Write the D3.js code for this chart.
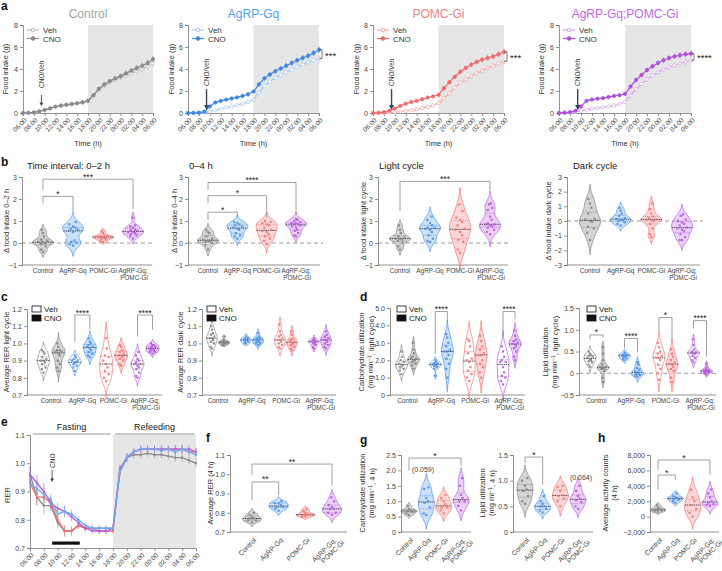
<!DOCTYPE html>
<html><head><meta charset="utf-8">
<script src="https://cdn.jsdelivr.net/npm/d3@7"></script>
<style>body{margin:0;background:#fff}</style></head>
<body><script>
// ================= DATA =================
const groups = ["Control","AgRP-Gq","POMC-Gi","AgRP-Gq;POMC-Gi"];
const timeTicks = ["06:00","08:00","10:00","12:00","14:00","16:00","18:00","20:00","22:00","00:00","02:00","04:00","06:00"];
const hourIdx = d3.range(25); // hours after 06:00

// panel a: cumulative food intake (g), hourly
const ctrlVeh = [0,0.02,0.05,0.14,0.26,0.4,0.55,0.64,0.72,0.79,0.86,0.94,1.08,1.55,2.1,2.5,2.8,3.0,3.2,3.4,3.6,3.8,4.0,4.25,4.5];
const ctrlCno = [0,0.02,0.05,0.15,0.28,0.42,0.58,0.68,0.75,0.82,0.9,0.98,1.12,1.62,2.2,2.6,2.9,3.15,3.35,3.6,3.85,4.1,4.3,4.55,4.9];
const agVeh = [0,0,0.02,0.05,0.12,0.25,0.38,0.5,0.6,0.72,0.85,1.0,1.2,1.85,2.45,2.85,3.2,3.45,3.7,3.95,4.2,4.4,4.6,4.8,4.95];
const agCno = [0,0.01,0.03,0.12,0.6,0.95,1.1,1.22,1.32,1.42,1.55,1.7,1.95,2.6,3.15,3.5,3.8,4.05,4.3,4.55,4.8,5.0,5.2,5.45,5.75];
const pmVeh = [0,0,0.01,0.03,0.07,0.12,0.18,0.25,0.35,0.45,0.55,0.7,0.9,1.35,1.8,2.3,2.75,3.05,3.35,3.6,3.85,4.1,4.3,4.5,4.7];
const pmCno = [0,0.03,0.08,0.2,0.4,0.65,0.85,1.0,1.1,1.25,1.4,1.5,1.65,2.25,2.8,3.3,3.75,4.1,4.4,4.65,4.85,5.0,5.15,5.35,5.55];
const cbVeh = [0,0.02,0.05,0.1,0.2,0.3,0.38,0.45,0.52,0.6,0.7,0.82,1.0,1.6,2.15,2.65,3.05,3.4,3.7,3.95,4.15,4.35,4.5,4.65,4.8];
const cbCno = [0,0.03,0.08,0.2,0.6,1.1,1.22,1.3,1.35,1.45,1.55,1.62,1.75,2.4,3.0,3.45,3.9,4.25,4.55,4.8,5.0,5.15,5.25,5.35,5.4];
const semA = [0,0.01,0.02,0.04,0.06,0.08,0.09,0.1,0.11,0.12,0.13,0.14,0.15,0.17,0.19,0.2,0.21,0.22,0.23,0.24,0.25,0.26,0.27,0.28,0.3];

// panel b: delta food intake, per group
const bInt02 = [[0.6,0.45,0.3,0.15,0.1,0.05,0.02,0,-0.05,-0.15,-0.3,-0.4],
  [0.95,0.85,0.75,0.7,0.65,0.6,0.55,0.5,0.12,0.05,0,-0.05,-0.12],
  [0.55,0.45,0.35,0.3,0.28,0.25,0.22,0.2,0.15,0.1,0.05,0.3],
  [1.15,0.8,0.75,0.7,0.6,0.55,0.5,0.5,0.45,0.4,0.35,0.3,0.2,0.6]];
const bInt04 = [[0.6,0.5,0.45,0.3,0.2,0.15,0.1,0.1,0.05,0,-0.1,-0.3],
  [0.95,0.9,0.85,0.8,0.75,0.7,0.65,0.6,0.45,0.35,0.3,0.2],
  [1.0,0.95,0.9,0.85,0.8,0.7,0.6,0.55,0.5,0.4,0.3,0.2,0.1,-0.05],
  [1.1,1.05,1.0,0.95,0.9,0.9,0.85,0.85,0.8,0.75,0.7,0.6,0.55,0.45,0.35,0.3]];
const bLight = [[0.8,0.6,0.45,0.3,0.25,0.2,0.15,0.1,0.0,-0.15,-0.3,0.2],
  [1.2,1.05,0.9,0.8,0.7,0.65,0.6,0.5,0.35,0.2,0.1,0.05,0.7],
  [1.75,1.45,1.15,1.05,0.95,0.8,0.65,0.6,0.35,0.15,0.05,-0.3,-0.45,0.5],
  [1.8,1.75,1.6,1.5,1.2,1.05,0.9,0.85,0.8,0.75,0.7,0.6,0.5,0.4,0.85]];
const bDark = [[1.5,1.2,0.9,0.5,0.15,0,-0.05,-0.4,-0.5,-0.8,-1.3,0.1],
  [0.9,0.7,0.5,0.35,0.2,0.1,0.05,0,-0.1,-0.2,-0.3,0.15],
  [1.2,0.8,0.5,0.3,0.2,0.1,0.05,0,-0.2,-0.5,-0.9,-1.1,0.1],
  [0.45,0.35,0.1,0,-0.2,-0.3,-0.45,-0.5,-0.7,-0.9,-1.1,-1.3,-0.1,-0.6,-1.3]];

// panel c: RER
const cLightVeh = [[0.96,0.95,0.94,0.92,0.91,0.9,0.9,0.89,0.88,0.86,0.85,0.83],
  [0.93,0.92,0.91,0.9,0.9,0.89,0.89,0.88,0.87,0.86,0.84],
  [1.03,0.97,0.93,0.92,0.9,0.88,0.86,0.84,0.82,0.8,0.78],
  [0.95,0.93,0.91,0.9,0.89,0.88,0.88,0.87,0.86,0.85,0.83,0.81,0.8]];
const cLightCno = [[1.0,0.98,0.96,0.96,0.95,0.95,0.94,0.93,0.9,0.88,0.86,0.84],
  [1.03,1.01,1.0,0.99,0.98,0.98,0.97,0.96,0.95,0.94,0.93,0.92],
  [0.99,0.98,0.96,0.95,0.94,0.93,0.93,0.92,0.91,0.9,0.88,0.87],
  [1.0,0.99,0.99,0.98,0.98,0.97,0.97,0.96,0.96,0.95,0.95,0.94]];
const cDarkVeh = [[1.1,1.08,1.06,1.05,1.04,1.03,1.03,1.02,1.01,1.0,0.98,0.97],
  [1.04,1.03,1.03,1.02,1.02,1.02,1.01,1.01,1.0,1.0],
  [1.11,1.07,1.05,1.04,1.03,1.02,1.02,1.01,1.0,0.99,0.98,0.97],
  [1.03,1.02,1.02,1.01,1.01,1.01,1.0,1.0,0.99,0.98,0.97]];
const cDarkCno = [[1.04,1.02,1.01,1.01,1.01,1.0,1.0,1.0,0.99,0.99],
  [1.06,1.04,1.03,1.03,1.02,1.02,1.01,1.01,1.0,1.0,0.99],
  [1.07,1.05,1.03,1.02,1.01,1.01,1.0,1.0,0.99,0.98,0.97,0.96],
  [1.07,1.05,1.04,1.03,1.02,1.02,1.01,1.0,0.99,0.98,0.97]];

// panel d: substrate utilization (light cycle)
const dCarbVeh = [[2.5,2.2,2.0,1.9,1.8,1.75,1.7,1.6,1.5,1.4,1.2],
  [2.0,1.9,1.85,1.8,1.75,1.75,1.7,1.65,1.6,1.5,1.1],
  [3.2,3.1,2.8,2.4,2.1,2.0,1.9,1.6,1.4,1.2,1.0,0.8],
  [2.8,2.5,2.2,2.0,1.9,1.9,1.6,1.3,1.1,1.0,0.8,0.6]];
const dCarbCno = [[3.0,2.6,2.4,2.2,2.1,2.1,2.0,2.0,1.9,1.8,1.7,1.5],
  [3.5,3.3,3.0,2.8,2.6,2.5,2.5,2.3,2.1,1.8,1.5,1.0],
  [3.4,3.1,2.8,2.6,2.4,2.3,2.3,2.0,1.8,1.6,1.3,1.0],
  [3.7,3.4,3.2,3.1,3.0,2.95,2.9,2.8,2.7,2.5,2.2,2.0]];
const dLipVeh = [[0.5,0.45,0.42,0.4,0.38,0.35,0.33,0.3,0.28,0.25,0.2,0.15],
  [0.48,0.45,0.43,0.42,0.41,0.4,0.38,0.36,0.34,0.32,0.3],
  [0.7,0.6,0.5,0.45,0.4,0.36,0.35,0.3,0.2,0.1,0,-0.15],
  [0.78,0.65,0.55,0.5,0.48,0.47,0.46,0.45,0.4,0.35,0.3,0.25]];
const dLipCno = [[0.6,0.45,0.3,0.2,0.15,0.14,0.13,0.12,0.1,0.05,-0.1,-0.2],
  [0.25,0.2,0.12,0.08,0.04,0.02,0,-0.02,-0.04,-0.06,-0.08],
  [0.55,0.45,0.38,0.3,0.25,0.22,0.2,0.15,0.1,0.05,-0.1,-0.2],
  [0.22,0.15,0.1,0.08,0.06,0.05,0.04,0.03,0.02,0,-0.03]];

// panel e: RER time course (hourly)
const eCtrl = [0.96,0.88,0.85,0.85,0.79,0.76,0.76,0.78,0.77,0.77,0.77,0.77,0.77,0.97,1.02,1.03,1.03,1.035,1.03,1.03,1.025,1.02,1.02,1.01,1.0];
const eAgrp = [0.93,0.91,0.89,0.87,0.82,0.83,0.82,0.8,0.78,0.77,0.77,0.77,0.77,0.97,1.02,1.04,1.05,1.05,1.05,1.045,1.05,1.04,1.05,1.04,1.03];
const ePomc = [0.93,0.88,0.88,0.86,0.8,0.76,0.76,0.78,0.77,0.77,0.76,0.76,0.76,0.98,1.02,1.04,1.05,1.05,1.05,1.05,1.05,1.05,1.05,1.04,1.04];
const eCombo = [0.96,0.93,0.9,0.86,0.84,0.83,0.81,0.79,0.77,0.76,0.76,0.76,0.77,0.98,1.02,1.04,1.05,1.05,1.05,1.05,1.05,1.05,1.05,1.05,1.04];
const semE = [0.03,0.03,0.03,0.02,0.02,0.02,0.015,0.012,0.01,0.01,0.01,0.01,0.01,0.015,0.015,0.012,0.012,0.012,0.012,0.012,0.012,0.015,0.015,0.015,0.015];

// panels f, g, h (4 h after CNO)
const fRer = [[0.8,0.79,0.78,0.77,0.77,0.76,0.76,0.75],
  [0.86,0.85,0.85,0.84,0.83,0.83,0.82,0.81],
  [0.82,0.81,0.8,0.79,0.79,0.79,0.78,0.78],
  [0.88,0.86,0.84,0.83,0.82,0.82,0.8,0.79,0.8]];
const gCarb = [[0.85,0.75,0.7,0.68,0.65,0.6,0.55],
  [1.45,1.4,1.1,1.0,0.95,0.8,0.6,0.55],
  [1.2,1.1,1.0,0.9,0.8,0.8,0.7,0.6],
  [1.75,1.5,1.2,1.1,1.0,1.0,0.85,0.7]];
const gLip = [[1.05,1.0,0.9,0.83,0.8,0.7,0.6,0.55],
  [0.7,0.6,0.55,0.5,0.5,0.45,0.42,0.38],
  [0.9,0.88,0.8,0.72,0.7,0.65,0.6,0.5],
  [0.9,0.8,0.7,0.65,0.62,0.58,0.5,0.45]];
const hAct = [[1500,1200,1000,900,800,700,600],
  [3000,2700,2500,2400,2300,2200,2000,1800],
  [3500,2500,2000,1500,1000,500,0],
  [3500,3000,2500,2000,1800,1600,1500,1400]];

// ================= STYLE =================
const F = "'Liberation Sans', Arial, sans-serif";
const gStroke = ["#858585","#4a90e8","#f07676","#b45ade"];
const gFill = ["#c6c6c6","#bad7fb","#fcc9c9","#e4c1f5"];
const titleCol = ["#a3a3a3","#4ea3f6","#f67f7f","#c266e6"];
const vehCol = ["#bcbcbc","#a8cbf7","#f8a8a8","#dba6ef"];
const cnoCol = ["#8a8a8a","#3d86e5","#f06a6a","#b04fdc"];
const axCol = "#777";

const svg = d3.select("body").append("svg").attr("width",722).attr("height",571)
  .style("font-family",F);

function txt(x,y,s,o={}) {
  const t = svg.append("text").attr("x",x).attr("y",y).text(s)
    .attr("font-size",o.size||7).attr("fill",o.fill||"#333")
    .attr("text-anchor",o.anchor||"start");
  if (o.weight) t.attr("font-weight",o.weight);
  if (o.rotate!==undefined) t.attr("transform",`rotate(${o.rotate},${x},${y})`);
  return t;
}
function styleAxis(g, size) {
  g.select(".domain").attr("stroke",axCol).attr("stroke-width",0.8);
  g.selectAll(".tick line").attr("stroke",axCol).attr("stroke-width",0.8);
  g.selectAll("text").attr("font-size",size||7).attr("fill","#444").attr("font-family",F);
}
function yAxis(x, y, ticks, fmt) {
  const g = svg.append("g").attr("transform",`translate(${x},0)`)
    .call(d3.axisLeft(y).tickValues(ticks).tickSize(3).tickPadding(2).tickFormat(fmt||d3.format("d")));
  styleAxis(g);
  return g;
}
function timeAxis(x, yPix) {
  const g = svg.append("g").attr("transform",`translate(0,${yPix})`)
    .call(d3.axisBottom(x).tickValues(d3.range(0,25,2)).tickSize(3).tickFormat((d,i)=>timeTicks[i]));
  styleAxis(g, 6.5);
  g.selectAll(".tick text").attr("x",0).attr("y",0).attr("dy","0.35em")
    .attr("text-anchor","end").attr("transform","translate(2,6) rotate(-45)");
}
function ylab(x, y, lines, size) {
  const t = svg.append("text").attr("transform",`translate(${x},${y}) rotate(-90)`)
    .attr("text-anchor","middle").attr("font-size",size||7.5).attr("fill","#333");
  lines.forEach((l,i)=>{
    const sp = t.append("tspan").attr("x",0).attr("dy", i===0 ? `${-(lines.length-1)*1.15}em` : "1.15em");
    if (Array.isArray(l)) {
      sp.text(l[0]);
      t.append("tspan").attr("dy","-0.45em").attr("font-size",(size||7.5)*0.7).text(l[1]);
      t.append("tspan").attr("dy","0.45em").text(l[2]);
    } else sp.text(l);
  });
}
function bracket(xa, xb, yl, ya, yb, t, size) {
  svg.append("path").attr("d",`M${xa},${ya} V${yl} H${xb} V${yb}`)
    .attr("fill","none").attr("stroke","#8a8a8a").attr("stroke-width",0.8);
  txt((xa+xb)/2, yl+0.5, t, {size:size||8.5, anchor:"middle", fill:"#222"});
}
function arrowDown(x, y1, y2, w, color, hw, hh) {
  svg.append("line").attr("x1",x).attr("x2",x).attr("y1",y1).attr("y2",y2-hh+0.5)
    .attr("stroke",color).attr("stroke-width",w);
  svg.append("path").attr("d",`M${x-hw},${y2-hh} L${x+hw},${y2-hh} L${x},${y2} Z`).attr("fill",color);
}
function panelLetter(x,y,l){ txt(x,y,l,{size:12,weight:"bold",fill:"#111"}); }

// ================= PANEL a =================
function foodPanel(i, x0, x1, veh, cno, ylabX, star, arrowBig) {
  const x = d3.scaleLinear().domain([0,24]).range([x0,x1]);
  const y = d3.scaleLinear().domain([0,8]).range([113,25]);
  svg.append("rect").attr("x",x(12)).attr("y",y(8)).attr("width",x(24)-x(12))
    .attr("height",y(0)-y(8)).attr("fill","#e6e6e6");
  yAxis(x0, y, [0,2,4,6,8]);
  timeAxis(x, 113);
  txt((x0+x1)/2, 18, groups[i], {size:12, anchor:"middle", fill:titleCol[i]});
  ylab(ylabX, 69, ["Food intake (g)"], 7.5);
  txt((x0+x1)/2, 146, "Time (h)", {size:7.5, anchor:"middle"});
  [[veh, vehCol[i], true],[cno, cnoCol[i], false]].forEach(([data, col, open])=>{
    const g = svg.append("g");
    g.selectAll("line").data(data).join("line")
      .attr("x1",(d,k)=>x(hourIdx[k])).attr("x2",(d,k)=>x(hourIdx[k]))
      .attr("y1",(d,k)=>y(d+semA[k])).attr("y2",(d,k)=>y(Math.max(0,d-semA[k])))
      .attr("stroke",col).attr("stroke-width",1).attr("opacity",0.7);
    g.append("path").datum(data)
      .attr("d", d3.line().x((d,k)=>x(hourIdx[k])).y(d=>y(d)))
      .attr("fill","none").attr("stroke",col).attr("stroke-width",1.2);
    g.selectAll("circle").data(data).join("circle")
      .attr("cx",(d,k)=>x(hourIdx[k])).attr("cy",d=>y(d)).attr("r",1.7)
      .attr("fill", open ? "#fff" : col).attr("stroke",col).attr("stroke-width",0.7);
  });
  [["Veh",vehCol[i],true],["CNO",cnoCol[i],false]].forEach(([lab,col,open],k)=>{
    const ly = 30 + k*8.5;
    svg.append("line").attr("x1",x0+4).attr("x2",x0+16).attr("y1",ly).attr("y2",ly).attr("stroke",col).attr("stroke-width",1.2);
    svg.append("circle").attr("cx",x0+10).attr("cy",ly).attr("r",1.8).attr("fill",open?"#fff":col).attr("stroke",col);
    txt(x0+20, ly+3, lab, {size:8, fill:"#333"});
  });
  const ax = x(3.4);
  const textBase = arrowBig ? 86 : 88;
  txt(ax+2.5, textBase, "CNO/Veh", {size:6.5, rotate:-90, fill:"#333"});
  if (arrowBig) arrowDown(ax, 89, 110, 1.4, "#3b4660", 2.6, 5);
  else arrowDown(ax, 95, 106, 0.9, "#3b4660", 2, 3.5);
  if (star) {
    const bx = x1 + 3, ya = y(cno[24]), yb = y(veh[24]);
    svg.append("path").attr("d",`M${bx-3},${ya} H${bx} V${yb} H${bx-3}`).attr("fill","none").attr("stroke","#555").attr("stroke-width",0.8);
    txt(bx+3, (ya+yb)/2+4.5, star, {size:9.5, fill:"#222"});
  }
}
panelLetter(1, 10, "a");
foodPanel(0, 23, 153, ctrlVeh, ctrlCno, 8, null, false);
foodPanel(1, 188, 319, agVeh, agCno, 174, "***", true);
foodPanel(2, 373, 504, pmVeh, pmCno, 359, "***", true);
foodPanel(3, 559, 691, cbVeh, cbCno, 544, "****", true);

// ================= violins =================
function violin(vals, cx, y, hw, gi, open) {
  const s = vals.slice().sort(d3.ascending);
  const n = s.length, sd = d3.deviation(s);
  const q1 = d3.quantile(s,0.25), q2 = d3.quantile(s,0.5), q3 = d3.quantile(s,0.75);
  const iqr = q3 - q1;
  let bw = 0.9*Math.min(sd, iqr>0 ? iqr/1.34 : sd)*Math.pow(n,-0.2);
  if (!(bw>0)) bw = sd*0.5 || 0.01;
  const lo = s[0]-2.4*bw, hi = s[n-1]+2.4*bw;
  const grid = d3.range(61).map(k=>lo+(hi-lo)*k/60);
  const K = v => d3.sum(s, d=>Math.exp(-0.5*((v-d)/bw)**2));
  const mx = d3.max(grid.map(K));
  const w = v => hw*K(v)/mx;
  const g = svg.append("g");
  g.append("path").attr("d", d3.area().curve(d3.curveBasis).y(d=>y(d)).x0(d=>cx-w(d)).x1(d=>cx+w(d))(grid))
    .attr("fill", open ? "#fff" : gFill[gi]).attr("fill-opacity", open ? 0.9 : 0.75)
    .attr("stroke", gStroke[gi]).attr("stroke-width",0.7);
  [q1,q3].forEach(q=>g.append("line").attr("x1",cx-w(q)).attr("x2",cx+w(q)).attr("y1",y(q)).attr("y2",y(q))
    .attr("stroke",gStroke[gi]).attr("stroke-width",0.7).attr("stroke-dasharray","1,1"));
  g.append("line").attr("x1",cx-w(q2)).attr("x2",cx+w(q2)).attr("y1",y(q2)).attr("y2",y(q2))
    .attr("stroke","#333").attr("stroke-width",0.9).attr("stroke-dasharray","1.4,0.8");
  const jit = [0,-0.45,0.45,-0.22,0.22];
  s.forEach((v,k)=>{
    g.append("rect").attr("x",cx+jit[k%5]*w(v)-1.1).attr("y",y(v)-1.1).attr("width",2.2).attr("height",2.2)
      .attr("fill", gStroke[gi]).attr("opacity",0.9);
  });
}
function catLabelsH(xs, yBase) {
  groups.forEach((gname,i)=>{
    const parts = gname.split(";");
    if (parts.length===1) txt(xs[i], yBase, gname, {size:6.4, anchor:"middle", fill:"#444"});
    else { txt(xs[i], yBase, parts[0]+";", {size:6.4, anchor:"middle", fill:"#444"});
           txt(xs[i]+1, yBase+7, parts[1], {size:6.4, anchor:"middle", fill:"#444"}); }
  });
}
function catLabelsR(xs, yTop) {
  groups.forEach((gname,i)=>{
    const parts = gname.split(";");
    const t = svg.append("text").attr("transform",`translate(${xs[i]+3},${yTop}) rotate(-45)`)
      .attr("text-anchor","end").attr("font-size",6.8).attr("fill","#444");
    if (parts.length===1) t.append("tspan").attr("x",0).attr("dy","0.35em").text(gname);
    else { t.append("tspan").attr("x",0).attr("dy","0.35em").text(parts[0]+";");
           t.append("tspan").attr("x",4).attr("dy","1.05em").text(parts[1]); }
  });
}
function catPanel(c) {
  const y = d3.scaleLinear().domain(c.domain).range([c.yBot, c.yTop]);
  const gx = d3.scaleLinear().domain([0,3]).range(c.gRange);
  if (c.zero) svg.append("line").attr("x1",c.ax).attr("x2",c.right+3).attr("y1",y(0)).attr("y2",y(0))
      .attr("stroke","#9a9a9a").attr("stroke-width",1).attr("stroke-dasharray","4,3");
  yAxis(c.ax, y, c.ticks, c.fmt);
  svg.append("line").attr("x1",c.ax).attr("x2",c.right).attr("y1",c.yBot).attr("y2",c.yBot).attr("stroke",axCol).attr("stroke-width",0.8);
  const xs = [0,1,2,3].map(gx);
  if (c.pairs) {
    c.veh.forEach((v,i)=>violin(v, gx(i)-c.dx, y, c.hw, i, true));
    c.cno.forEach((v,i)=>violin(v, gx(i)+c.dx, y, c.hw, i, false));
  } else c.data.forEach((v,i)=>violin(v, gx(i), y, c.hw, i, false));
  if (c.rot) catLabelsR(xs, c.yBot+7); else catLabelsH(xs, c.yBot+8);
  (c.brackets||[]).forEach(b=>{
    const xa = b.pair!==undefined ? gx(b.pair)-c.dx : gx(b.a);
    const xb = b.pair!==undefined ? gx(b.pair)+c.dx : gx(b.b);
    bracket(xa, xb, y(b.y), y(b.la), y(b.lb), b.t);
  });
  if (c.legend) {
    [["Veh",false],["CNO",true]].forEach(([lab,fill],k)=>{
      const ly = c.legend[1] + k*9;
      svg.append("rect").attr("x",c.legend[0]).attr("y",ly-5).attr("width",9).attr("height",6)
        .attr("fill",fill?"#111":"#fff").attr("stroke","#111").attr("stroke-width",0.8);
      txt(c.legend[0]+12, ly+1, lab, {size:8, fill:"#222"});
    });
  }
  return {y, gx};
}
const f1 = d3.format(".1f");
const fmt1 = d => d===0 ? "0" : f1(d);

// ================= PANEL b =================
panelLetter(1, 166, "b");
txt(27, 169, "Time interval: 0–2 h", {size:9.5, fill:"#222"});
txt(189, 169, "0–4 h", {size:9.5, fill:"#222"});
txt(379, 169, "Light cycle", {size:9.5, fill:"#222"});
txt(573, 169, "Dark cycle", {size:9.5, fill:"#222"});
catPanel({ax:22, right:152, yBot:265, yTop:177, domain:[-1,3], ticks:[-1,0,1,2,3], gRange:[43,133], hw:10.5, zero:true,
  data:bInt02, brackets:[{a:0,b:1,y:2.12,la:1.8,lb:1.45,t:"*"},{a:0,b:3,y:2.9,la:2.4,lb:1.55,t:"***"}]});
ylab(9, 221, ["Δ food intake 0–2 h"], 7.5);
catPanel({ax:188, right:320, yBot:265, yTop:177, domain:[-1,3], ticks:[-1,0,1,2,3], gRange:[208,296], hw:10.5, zero:true,
  data:bInt04, brackets:[{a:0,b:3,y:2.75,la:2.4,lb:1.3,t:"****"},{a:0,b:2,y:2.15,la:1.8,lb:1.15,t:"*"},{a:0,b:1,y:1.4,la:1.05,lb:1.15,t:"*"}]});
ylab(177, 221, ["Δ food intake 0–4 h"], 7.5);
catPanel({ax:378, right:508, yBot:265, yTop:177, domain:[-1,3], ticks:[-1,0,1,2,3], gRange:[400,490], hw:10.5, zero:true,
  data:bLight, brackets:[{a:0,b:3,y:2.8,la:1.45,lb:2.4,t:"***"}]});
ylab(366, 221, ["Δ food intake light cycle"], 7.5);
catPanel({ax:567, right:700, yBot:265, yTop:177, domain:[-3,3], ticks:[-3,-2,-1,0,1,2,3], gRange:[590,682], hw:10.5, zero:true,
  data:bDark});
ylab(551, 221, ["Δ food intake dark cycle"], 7.5);

// ================= PANEL c =================
panelLetter(1, 301, "c");
catPanel({ax:27, right:162, yBot:395, yTop:309, domain:[0.7,1.2], ticks:[0.7,0.8,0.9,1.0,1.1,1.2], fmt:f1,
  gRange:[51,145], hw:6.5, dx:7.5, pairs:true, veh:cLightVeh, cno:cLightCno, legend:[32,311],
  brackets:[{pair:1,y:1.165,la:1.01,lb:1.08,t:"****"},{pair:3,y:1.165,la:1.04,lb:1.08,t:"****"}]});
ylab(9, 352, ["Average RER light cycle"], 7.5);
catPanel({ax:202, right:336, yBot:395, yTop:309, domain:[0.7,1.2], ticks:[0.7,0.8,0.9,1.0,1.1,1.2], fmt:f1,
  gRange:[218,320], hw:5.5, dx:6, pairs:true, veh:cDarkVeh, cno:cDarkCno, legend:[207,311]});
ylab(183, 352, ["Average RER dark cycle"], 7.5);

// ================= PANEL d =================
panelLetter(360, 301, "d");
catPanel({ax:390, right:525, yBot:395, yTop:308, domain:[0,5], ticks:[0,1,2,3,4,5], fmt:fmt1,
  gRange:[407.5,509], hw:6, dx:6, pairs:true, veh:dCarbVeh, cno:dCarbCno, legend:[397,311],
  brackets:[{pair:1,y:4.8,la:2.35,lb:4.15,t:"****"},{pair:3,y:4.8,la:3.3,lb:4.35,t:"****"}]});
ylab(373, 352, ["Carbohydrate utilization", ["(mg min", "−1", ", light cycle)"]], 7.5);
catPanel({ax:579, right:716, yBot:395, yTop:308, domain:[-0.5,1.5], ticks:[-0.5,0,0.5,1.0,1.5], fmt:fmt1,
  gRange:[596.5,700], hw:6, dx:6.5, pairs:true, veh:dLipVeh, cno:dLipCno, legend:[587,311], zero:true,
  brackets:[{pair:0,y:0.88,la:0.78,lb:0.82,t:"*"},{pair:1,y:0.8,la:0.58,lb:0.48,t:"****"},
            {pair:2,y:1.28,la:0.99,lb:0.74,t:"*"},{pair:3,y:1.21,la:1.03,lb:0.38,t:"****"}]});
ylab(557, 352, ["Lipid utilization", ["(mg min", "−1", ", light cycle)"]], 7.5);

// ================= PANEL e =================
panelLetter(1, 426, "e");
(function(){
  const x = d3.scaleLinear().domain([0,24]).range([30,196]);
  const y = d3.scaleLinear().domain([0.7,1.1]).range([548,435]);
  svg.append("rect").attr("x",x(12)).attr("y",y(1.1)).attr("width",x(24)-x(12)).attr("height",y(0.7)-y(1.1)).attr("fill","#e6e6e6");
  yAxis(30, y, [0.7,0.8,0.9,1.0,1.1], f1);
  timeAxis(x, 548);
  ylab(10, 495, ["RER"], 7.5);
  svg.append("line").attr("x1",x(0.4)).attr("x2",x(11.6)).attr("y1",434).attr("y2",434).attr("stroke","#888").attr("stroke-width",0.9);
  svg.append("line").attr("x1",x(12.3)).attr("x2",x(23.8)).attr("y1",434).attr("y2",434).attr("stroke","#888").attr("stroke-width",0.9);
  txt(x(6), 430, "Fasting", {size:9, anchor:"middle", fill:"#222"});
  txt(x(18), 430, "Refeeding", {size:9, anchor:"middle", fill:"#222"});
  const sers = [[eCtrl,"#8d8d8d"],[ePomc,"#f46c6c"],[eCombo,"#b65ce0"],[eAgrp,"#6aaaf2"]];
  sers.forEach(([data,col])=>{
    const g = svg.append("g");
    g.selectAll("line").data(data).join("line")
      .attr("x1",(d,k)=>x(hourIdx[k])).attr("x2",(d,k)=>x(hourIdx[k]))
      .attr("y1",(d,k)=>y(d+semE[k])).attr("y2",(d,k)=>y(d-semE[k]))
      .attr("stroke",col).attr("stroke-width",1).attr("opacity",0.55);
    g.append("path").datum(data).attr("d",d3.line().x((d,k)=>x(hourIdx[k])).y(d=>y(d)))
      .attr("fill","none").attr("stroke",col).attr("stroke-width",1.4);
    g.selectAll("rect").data(data).join("rect")
      .attr("x",(d,k)=>x(hourIdx[k])-1).attr("y",d=>y(d)-1).attr("width",2).attr("height",2).attr("fill",col);
  });
  const ax = x(3.2);
  txt(ax+2.5, 468, "CNO", {size:6.5, rotate:-90, fill:"#333"});
  arrowDown(ax, 470, 482, 0.8, "#333", 1.8, 3.5);
  svg.append("rect").attr("x",x(3.2)).attr("y",541.5).attr("width",x(7.2)-x(3.2)).attr("height",3.2).attr("fill","#111");
})();

// ================= PANEL f =================
panelLetter(206, 442, "f");
catPanel({ax:230, right:347, yBot:532, yTop:455, domain:[0.7,1.1], ticks:[0.7,0.8,0.9,1.0,1.1], fmt:f1,
  gRange:[252,332], hw:9.5, rot:true, data:fRer,
  brackets:[{a:0,b:3,y:1.053,la:0.996,lb:0.94,t:"**"},{a:0,b:1,y:0.96,la:0.865,lb:0.89,t:"**"}]});
ylab(213, 493, ["Average RER (4 h)"], 7.5);

// ================= PANEL g =================
panelLetter(360, 444, "g");
catPanel({ax:401, right:471, yBot:532, yTop:455, domain:[0,2.5], ticks:[0,0.5,1.0,1.5,2.0,2.5], fmt:fmt1,
  gRange:[409,461], hw:8, rot:true, data:gCarb,
  brackets:[{a:0,b:3,y:2.4,la:2.0,lb:2.15,t:"*"}]});
ylab(374, 493, ["Carbohydrate utilization", ["(mg min", "−1", ", 4 h)"]], 7.5);
txt(423, 472, "(0.059)", {size:7, anchor:"middle", fill:"#444"});
catPanel({ax:513, right:593, yBot:532, yTop:455, domain:[0,1.5], ticks:[0,0.5,1.0,1.5], fmt:fmt1,
  gRange:[525,578], hw:8, rot:true, data:gLip,
  brackets:[{a:0,b:1,y:1.46,la:1.34,lb:0.92,t:"*"}]});
ylab(494, 493, ["Lipid utilization", ["(mg ml", "−1", ", 4 h)"]], 7.5);
txt(581, 480, "(0.064)", {size:7, anchor:"middle", fill:"#444"});

// ================= PANEL h =================
panelLetter(598, 442, "h");
catPanel({ax:650, right:719, yBot:532, yTop:455, domain:[-2000,8000], ticks:[-2000,0,2000,4000,6000,8000], fmt:d3.format(","),
  gRange:[658,710], hw:8, rot:true, data:hAct,
  brackets:[{a:0,b:3,y:7350,la:6100,lb:5400,t:"*"},{a:0,b:1,y:5400,la:3450,lb:4750,t:"*"}]});
ylab(617, 493, ["Average activity counts", "(4 h)"], 7.5);
</script></body></html>
